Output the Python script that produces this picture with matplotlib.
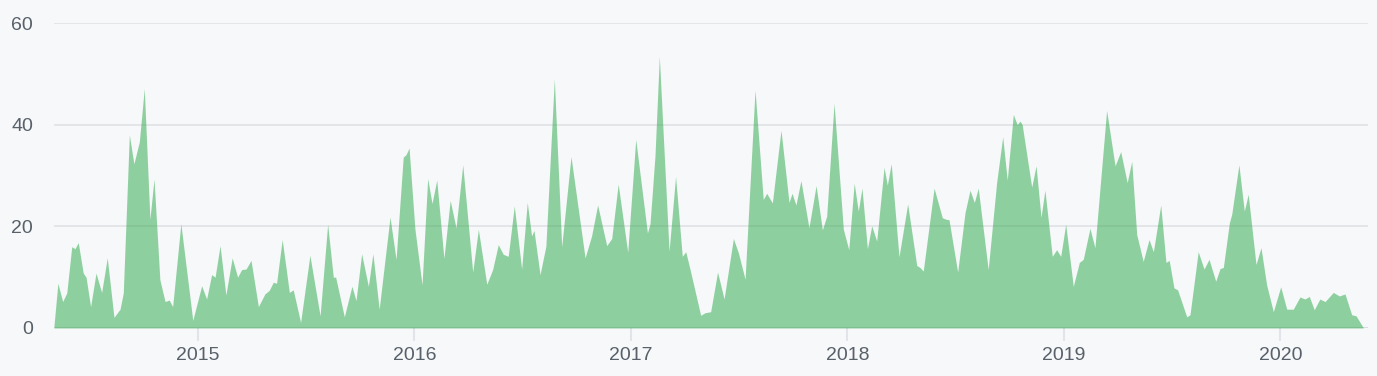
import matplotlib
matplotlib.use("Agg")
import matplotlib.pyplot as plt

# decimal-year positions and weekly commit counts
t = [2014.335, 2014.353, 2014.375, 2014.394, 2014.417, 2014.432, 2014.447, 2014.470, 2014.483, 2014.504,
     2014.529, 2014.555, 2014.581, 2014.612, 2014.640, 2014.655, 2014.683, 2014.704, 2014.729, 2014.752,
     2014.778, 2014.797, 2014.824, 2014.848, 2014.867, 2014.883, 2014.921, 2014.976, 2015.017, 2015.040,
     2015.063, 2015.079, 2015.102, 2015.129, 2015.158, 2015.183, 2015.202, 2015.222, 2015.245, 2015.279,
     2015.309, 2015.329, 2015.348, 2015.363, 2015.389, 2015.422, 2015.440, 2015.474, 2015.517, 2015.564,
     2015.599, 2015.625, 2015.636, 2015.676, 2015.711, 2015.730, 2015.756, 2015.787, 2015.808, 2015.837,
     2015.887, 2015.915, 2015.948, 2015.961, 2015.975, 2016.002, 2016.035, 2016.061, 2016.081, 2016.103,
     2016.136, 2016.165, 2016.192, 2016.223, 2016.269, 2016.295, 2016.334, 2016.361, 2016.387, 2016.410,
     2016.433, 2016.461, 2016.495, 2016.521, 2016.541, 2016.552, 2016.580, 2016.607, 2016.646, 2016.680,
     2016.723, 2016.788, 2016.818, 2016.846, 2016.888, 2016.911, 2016.941, 2016.985, 2017.022, 2017.076,
     2017.088, 2017.111, 2017.131, 2017.176, 2017.206, 2017.237, 2017.253, 2017.273, 2017.322, 2017.342,
     2017.368, 2017.400, 2017.430, 2017.473, 2017.496, 2017.527, 2017.573, 2017.611, 2017.627, 2017.653,
     2017.693, 2017.730, 2017.744, 2017.762, 2017.785, 2017.822, 2017.855, 2017.884, 2017.904, 2017.938,
     2017.981, 2018.006, 2018.031, 2018.050, 2018.067, 2018.092, 2018.112, 2018.135, 2018.169, 2018.184,
     2018.202, 2018.238, 2018.278, 2018.320, 2018.335, 2018.350, 2018.400, 2018.438, 2018.454, 2018.469,
     2018.509, 2018.543, 2018.566, 2018.586, 2018.604, 2018.650, 2018.689, 2018.717, 2018.738, 2018.766,
     2018.784, 2018.797, 2018.807, 2018.851, 2018.871, 2018.894, 2018.912, 2018.946, 2018.966, 2018.985,
     2019.008, 2019.043, 2019.071, 2019.089, 2019.120, 2019.143, 2019.197, 2019.236, 2019.262, 2019.292,
     2019.313, 2019.336, 2019.366, 2019.393, 2019.413, 2019.447, 2019.471, 2019.486, 2019.508, 2019.525,
     2019.567, 2019.582, 2019.620, 2019.647, 2019.670, 2019.701, 2019.721, 2019.736, 2019.764, 2019.775,
     2019.808, 2019.833, 2019.851, 2019.887, 2019.910, 2019.936, 2019.967, 2020.001, 2020.029, 2020.059,
     2020.090, 2020.113, 2020.133, 2020.156, 2020.182, 2020.206, 2020.244, 2020.272, 2020.298, 2020.329,
     2020.349, 2020.382]

commits = [0.5, 8.8, 5.2, 6.9, 16.0, 15.6, 16.8, 10.8, 10.0, 4.2,
           10.8, 7.0, 13.8, 2.1, 3.7, 6.9, 38.0, 32.3, 36.6, 47.1,
           21.4, 29.3, 9.5, 5.2, 5.5, 4.2, 20.5, 1.5, 8.3, 5.7,
           10.5, 10.0, 16.2, 6.5, 13.8, 10.0, 11.5, 11.6, 13.3, 4.2,
           6.7, 7.4, 9.0, 8.8, 17.4, 7.0, 7.5, 1.1, 14.3, 2.4,
           20.4, 10.0, 10.0, 2.2, 8.2, 5.4, 14.6, 8.2, 14.6, 3.7,
           21.8, 13.5, 33.6, 34.1, 35.4, 19.5, 8.5, 29.4, 24.5, 29.1,
           13.7, 25.1, 19.7, 32.1, 11.0, 19.4, 8.6, 11.5, 16.4, 14.5,
           14.1, 24.0, 11.6, 24.7, 18.1, 19.2, 10.5, 16.1, 49.0, 16.0,
           33.7, 13.8, 18.1, 24.2, 16.2, 17.6, 28.3, 14.9, 37.1, 18.7,
           20.5, 33.9, 53.4, 15.1, 29.8, 14.1, 15.0, 11.5, 2.5, 3.0,
           3.2, 11.0, 5.7, 17.6, 14.8, 9.6, 46.8, 25.3, 26.5, 24.6,
           38.9, 24.7, 26.5, 24.2, 29.0, 19.7, 28.0, 19.3, 22.0, 44.2,
           19.4, 15.4, 28.5, 23.0, 27.5, 15.6, 20.1, 17.1, 31.6, 28.1,
           32.3, 14.0, 24.4, 12.3, 11.9, 11.2, 27.5, 21.7, 21.4, 21.3,
           11.0, 22.7, 27.1, 24.7, 27.5, 11.5, 28.6, 37.6, 29.1, 42.0,
           40.0, 40.7, 40.0, 27.7, 31.9, 21.8, 27.1, 14.1, 15.4, 14.1,
           20.4, 8.2, 12.9, 13.5, 19.6, 15.8, 42.8, 31.9, 34.7, 28.6,
           32.8, 18.4, 13.1, 17.4, 15.0, 24.2, 12.9, 13.3, 7.9, 7.5,
           2.2, 2.6, 15.0, 11.6, 13.5, 9.2, 11.7, 11.9, 20.7, 22.4,
           32.1, 23.0, 26.3, 12.5, 15.8, 8.5, 3.2, 8.1, 3.7, 3.7,
           6.1, 5.7, 6.2, 3.6, 5.7, 5.2, 7.0, 6.3, 6.7, 2.6,
           2.4, 0.1]

year_ticks = [2015, 2016, 2017, 2018, 2019, 2020]
y_ticks = [0, 20, 40, 60]

BG = "#f6f8fa"
GRID = "#e1e4e8"
TEXT = "#586069"

plt.rcParams['font.family'] = ['Liberation Sans', 'DejaVu Sans']

fig = plt.figure(figsize=(13.77, 3.76), dpi=100, facecolor=BG)
W, H = 1377, 376
ax = fig.add_axes([54 / W, (H - 328) / H, (1367.5 - 54) / W, (328 - 23) / H])
ax.set_facecolor(BG)

for y in y_ticks[1:]:
    ax.axhline(y, color=GRID, lw=1.3, zorder=1)
ax.axhline(0, color="#d8dbdf", lw=2.2, zorder=1)

ax.fill_between(t, commits, 0, color="#28a745", alpha=0.5, lw=0, zorder=2)

ax.set_xlim(2014.335, 2020.402)
ax.set_ylim(0, 60)
for s in ax.spines.values():
    s.set_visible(False)

ax.set_xticks(year_ticks)
ax.set_xticklabels([str(y) for y in year_ticks])
ax.set_yticks(y_ticks)
ax.set_yticklabels([str(y) for y in y_ticks])
ax.tick_params(axis='x', length=9, width=1.5, color=GRID, labelcolor=TEXT, labelsize=14, pad=5)
ax.tick_params(axis='y', length=0, labelcolor=TEXT, labelsize=14, pad=15)

fig.savefig("out.png", dpi=100, facecolor=BG)
